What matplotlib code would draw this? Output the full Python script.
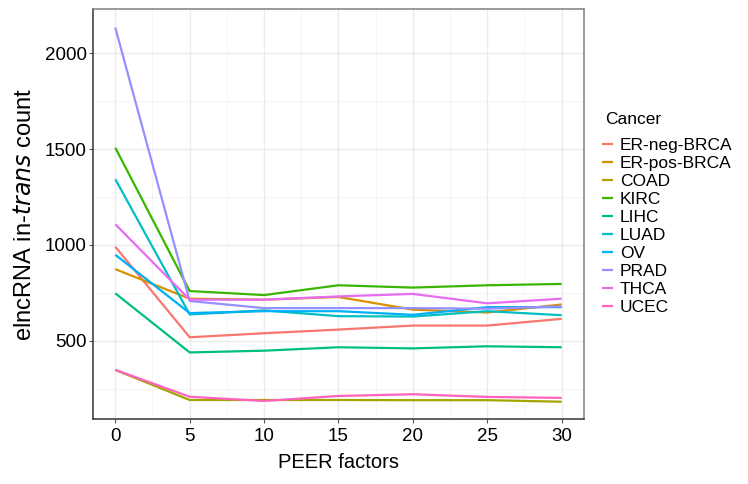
import matplotlib.pyplot as plt
from matplotlib.ticker import MultipleLocator

plt.rcParams['font.family'] = ['Liberation Sans', 'DejaVu Sans']

# PEER factors on the x axis
peer = [0, 5, 10, 15, 20, 25, 30]

# elncRNA in-trans counts per cancer type
er_neg_brca = [991, 519, 540, 559, 580, 580, 615]
er_pos_brca = [874, 720, 715, 729, 663, 648, 690]
coad = [349, 192, 192, 192, 191, 191, 183]
kirc = [1507, 760, 739, 790, 778, 790, 797]
lihc = [748, 440, 449, 467, 461, 472, 467]
luad = [1343, 638, 659, 629, 627, 655, 634]
ov = [949, 645, 655, 655, 636, 676, 676]
prad = [2133, 708, 671, 671, 671, 668, 680]
thca = [1108, 715, 715, 732, 745, 696, 720]
ucec = [349, 209, 187, 213, 222, 208, 203]

cancers = ['ER-neg-BRCA', 'ER-pos-BRCA', 'COAD', 'KIRC', 'LIHC',
           'LUAD', 'OV', 'PRAD', 'THCA', 'UCEC']
series = [er_neg_brca, er_pos_brca, coad, kirc, lihc,
          luad, ov, prad, thca, ucec]
colors = ['#F8766D', '#D89000', '#A3A500', '#39B600', '#00BF7D',
          '#00BFC4', '#00B0F6', '#9590FF', '#E76BF3', '#FF62BC']

fig = plt.figure(figsize=(7.48, 4.84), dpi=100)
ax = fig.add_axes([0.1243, 0.1343, 0.6564, 0.8471])

for name, vals, c in zip(cancers, series, colors):
    ax.plot(peer, vals, color=c, lw=1.6, label=name, solid_capstyle='butt')

ax.set_xlim(-1.5, 31.5)
ax.set_ylim(93, 2230)
ax.xaxis.set_major_locator(MultipleLocator(5))
ax.xaxis.set_minor_locator(MultipleLocator(2.5))
ax.yaxis.set_major_locator(MultipleLocator(500))
ax.yaxis.set_minor_locator(MultipleLocator(250))
ax.grid(which='major', color='#EBEBEB', lw=1.0)
ax.grid(which='minor', color='#F2F2F2', lw=0.6)
ax.set_axisbelow(True)

for side in ['top', 'right']:
    ax.spines[side].set_color('#7F7F7F')
    ax.spines[side].set_linewidth(1.1)
for side in ['left', 'bottom']:
    ax.spines[side].set_color('#333333')
    ax.spines[side].set_linewidth(1.1)

ax.tick_params(which='major', length=3, width=0.8, color='#555555',
               labelcolor='black', labelsize=13.5)
ax.tick_params(axis='y', pad=1.5)
ax.tick_params(axis='x', pad=3.5)
ax.tick_params(which='minor', length=0)

ax.set_xlabel('PEER factors', fontsize=14.5, va='center')
ax.xaxis.set_label_coords(0.5, -0.1073)
ax.set_ylabel('elncRNA in-$\\it{trans}$ count', fontsize=17, va='center')
ax.yaxis.set_label_coords(-0.1375, 0.5)

fig.text(0.8088, 0.7541, 'Cancer', fontsize=12.5, ha='left', va='center')
leg = ax.legend(loc='upper left', bbox_to_anchor=(1.0367, 0.6866),
                frameon=False, fontsize=12.5,
                handlelength=0.63, handletextpad=0.4, labelspacing=0.167,
                borderaxespad=0, borderpad=0)

plt.savefig('out.png')
